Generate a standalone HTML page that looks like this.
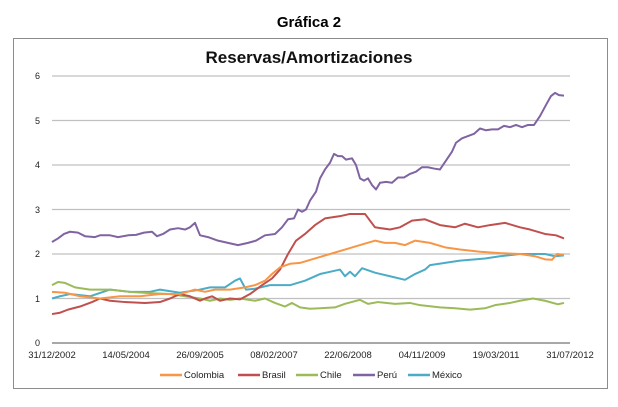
<!DOCTYPE html>
<html><head><meta charset="utf-8"><style>
body{margin:0;background:#fff;width:618px;height:402px;overflow:hidden}
svg{font-family:"Liberation Sans",sans-serif}
</style></head><body>
<svg width="618" height="402" xmlns="http://www.w3.org/2000/svg">
<text x="309" y="27" text-anchor="middle" font-size="15" font-weight="bold" fill="#000">Gráfica 2</text>
<rect x="13.5" y="38.5" width="594" height="350" fill="#fff" stroke="#8c8c8c"/>
<text x="309" y="63" text-anchor="middle" font-size="17" font-weight="bold" fill="#111">Reservas/Amortizaciones</text>
<g stroke="#c0c0c0" stroke-width="1.2">
<line x1="52" x2="570" y1="76" y2="76"/><line x1="52" x2="570" y1="120.5" y2="120.5"/>
<line x1="52" x2="570" y1="165" y2="165"/><line x1="52" x2="570" y1="209.5" y2="209.5"/>
<line x1="52" x2="570" y1="254" y2="254"/><line x1="52" x2="570" y1="298.5" y2="298.5"/>
</g>
<line x1="52" x2="570" y1="343" y2="343" stroke="#8c8c8c" stroke-width="1.5"/>
<g font-size="9" fill="#222" text-anchor="end">
<text x="40" y="79">6</text><text x="40" y="124">5</text><text x="40" y="168">4</text>
<text x="40" y="213">3</text><text x="40" y="257">2</text><text x="40" y="302">1</text><text x="40" y="346">0</text>
</g>
<g font-size="9.5" fill="#222" text-anchor="middle">
<text x="52" y="358">31/12/2002</text><text x="126" y="358">14/05/2004</text><text x="200" y="358">26/09/2005</text>
<text x="274" y="358">08/02/2007</text><text x="348" y="358">22/06/2008</text><text x="422" y="358">04/11/2009</text>
<text x="496" y="358">19/03/2011</text><text x="570" y="358">31/07/2012</text>
</g>
<g transform="translate(0,343) scale(1,-44.5)" fill="none" stroke-width="2" stroke-linejoin="round">
<polyline vector-effect="non-scaling-stroke" stroke="#4BACC6" points="52,1 60,1.05 70,1.1 90,1.05 110,1.2 130,1.15 150,1.15 160,1.2 180,1.13 200,1.2 210,1.25 225,1.25 235,1.4 240,1.45 246,1.2 255,1.22 270,1.3 290,1.3 305,1.4 320,1.55 330,1.6 340,1.65 345,1.5 350,1.6 355,1.5 362,1.68 375,1.58 390,1.5 405,1.42 415,1.55 425,1.65 430,1.75 445,1.8 460,1.85 475,1.88 485,1.9 500,1.95 520,2 545,2 555,1.95 564,1.97"/>
<polyline vector-effect="non-scaling-stroke" stroke="#9BBB59" points="52,1.3 58,1.37 65,1.35 75,1.25 90,1.2 110,1.2 130,1.15 150,1.12 170,1.1 185,1.05 200,1 210,0.95 220,1 230,0.97 240,1 255,0.95 265,1 275,0.9 285,0.82 292,0.9 300,0.8 310,0.77 320,0.78 335,0.8 345,0.88 360,0.97 368,0.88 378,0.92 395,0.88 410,0.9 420,0.85 440,0.8 455,0.78 470,0.75 485,0.78 495,0.85 510,0.9 520,0.95 533,1 545,0.95 558,0.87 564,0.9"/>
<polyline vector-effect="non-scaling-stroke" stroke="#C0504D" points="52,0.65 60,0.68 68,0.75 80,0.82 92,0.92 100,1 110,0.95 125,0.92 145,0.9 160,0.92 170,1 180,1.1 190,1.05 200,0.95 205,1 212,1.05 220,0.95 230,1 240,0.98 250,1.1 262,1.3 272,1.45 280,1.65 288,2 296,2.3 305,2.45 315,2.65 325,2.8 340,2.85 350,2.9 365,2.9 375,2.6 390,2.55 400,2.6 412,2.75 425,2.78 440,2.65 455,2.6 465,2.68 478,2.6 490,2.65 505,2.7 520,2.6 530,2.55 545,2.45 556,2.42 564,2.35"/>
<polyline vector-effect="non-scaling-stroke" stroke="#F79646" points="52,1.15 65,1.13 80,1.05 100,1 120,1.05 140,1.05 160,1.1 180,1.1 195,1.2 205,1.15 215,1.2 230,1.2 245,1.25 255,1.3 265,1.4 272,1.55 280,1.7 290,1.78 300,1.8 315,1.9 330,2 345,2.1 360,2.2 375,2.3 385,2.25 395,2.25 405,2.2 415,2.3 430,2.25 445,2.15 460,2.1 480,2.05 500,2.02 520,2 535,1.95 545,1.88 552,1.87 557,2 564,1.98"/>
<polyline vector-effect="non-scaling-stroke" stroke="#8064A2" points="52,2.27 58,2.35 64,2.45 70,2.5 78,2.48 85,2.4 95,2.38 100,2.42 110,2.42 118,2.38 128,2.42 136,2.43 144,2.48 152,2.5 157,2.4 163,2.45 170,2.55 178,2.58 185,2.55 190,2.6 195,2.7 200,2.42 208,2.38 218,2.3 228,2.25 238,2.2 248,2.25 256,2.3 265,2.42 275,2.45 282,2.6 288,2.78 294,2.8 298,3 302,2.95 306,3 310,3.2 316,3.4 320,3.7 325,3.9 330,4.05 334,4.25 338,4.2 342,4.2 346,4.12 352,4.15 356,4 360,3.7 364,3.65 368,3.7 372,3.55 376,3.45 380,3.6 386,3.62 392,3.6 398,3.72 404,3.72 410,3.8 416,3.85 422,3.95 428,3.95 434,3.92 440,3.9 446,4.1 452,4.3 456,4.5 462,4.6 468,4.65 474,4.7 480,4.82 486,4.78 492,4.8 498,4.8 504,4.88 510,4.85 516,4.9 522,4.85 528,4.9 534,4.9 540,5.1 546,5.35 551,5.55 555,5.62 559,5.57 564,5.56"/>
</g>
<g font-size="9.5" fill="#222" stroke-width="2.5">
<line x1="160" x2="182" y1="375" y2="375" stroke="#F79646"/><text x="184" y="378">Colombia</text>
<line x1="238" x2="260" y1="375" y2="375" stroke="#C0504D"/><text x="262" y="378">Brasil</text>
<line x1="296" x2="318" y1="375" y2="375" stroke="#9BBB59"/><text x="320" y="378">Chile</text>
<line x1="353" x2="375" y1="375" y2="375" stroke="#8064A2"/><text x="377" y="378">Perú</text>
<line x1="408" x2="430" y1="375" y2="375" stroke="#4BACC6"/><text x="432" y="378">México</text>
</g>
</svg>
</body></html>
